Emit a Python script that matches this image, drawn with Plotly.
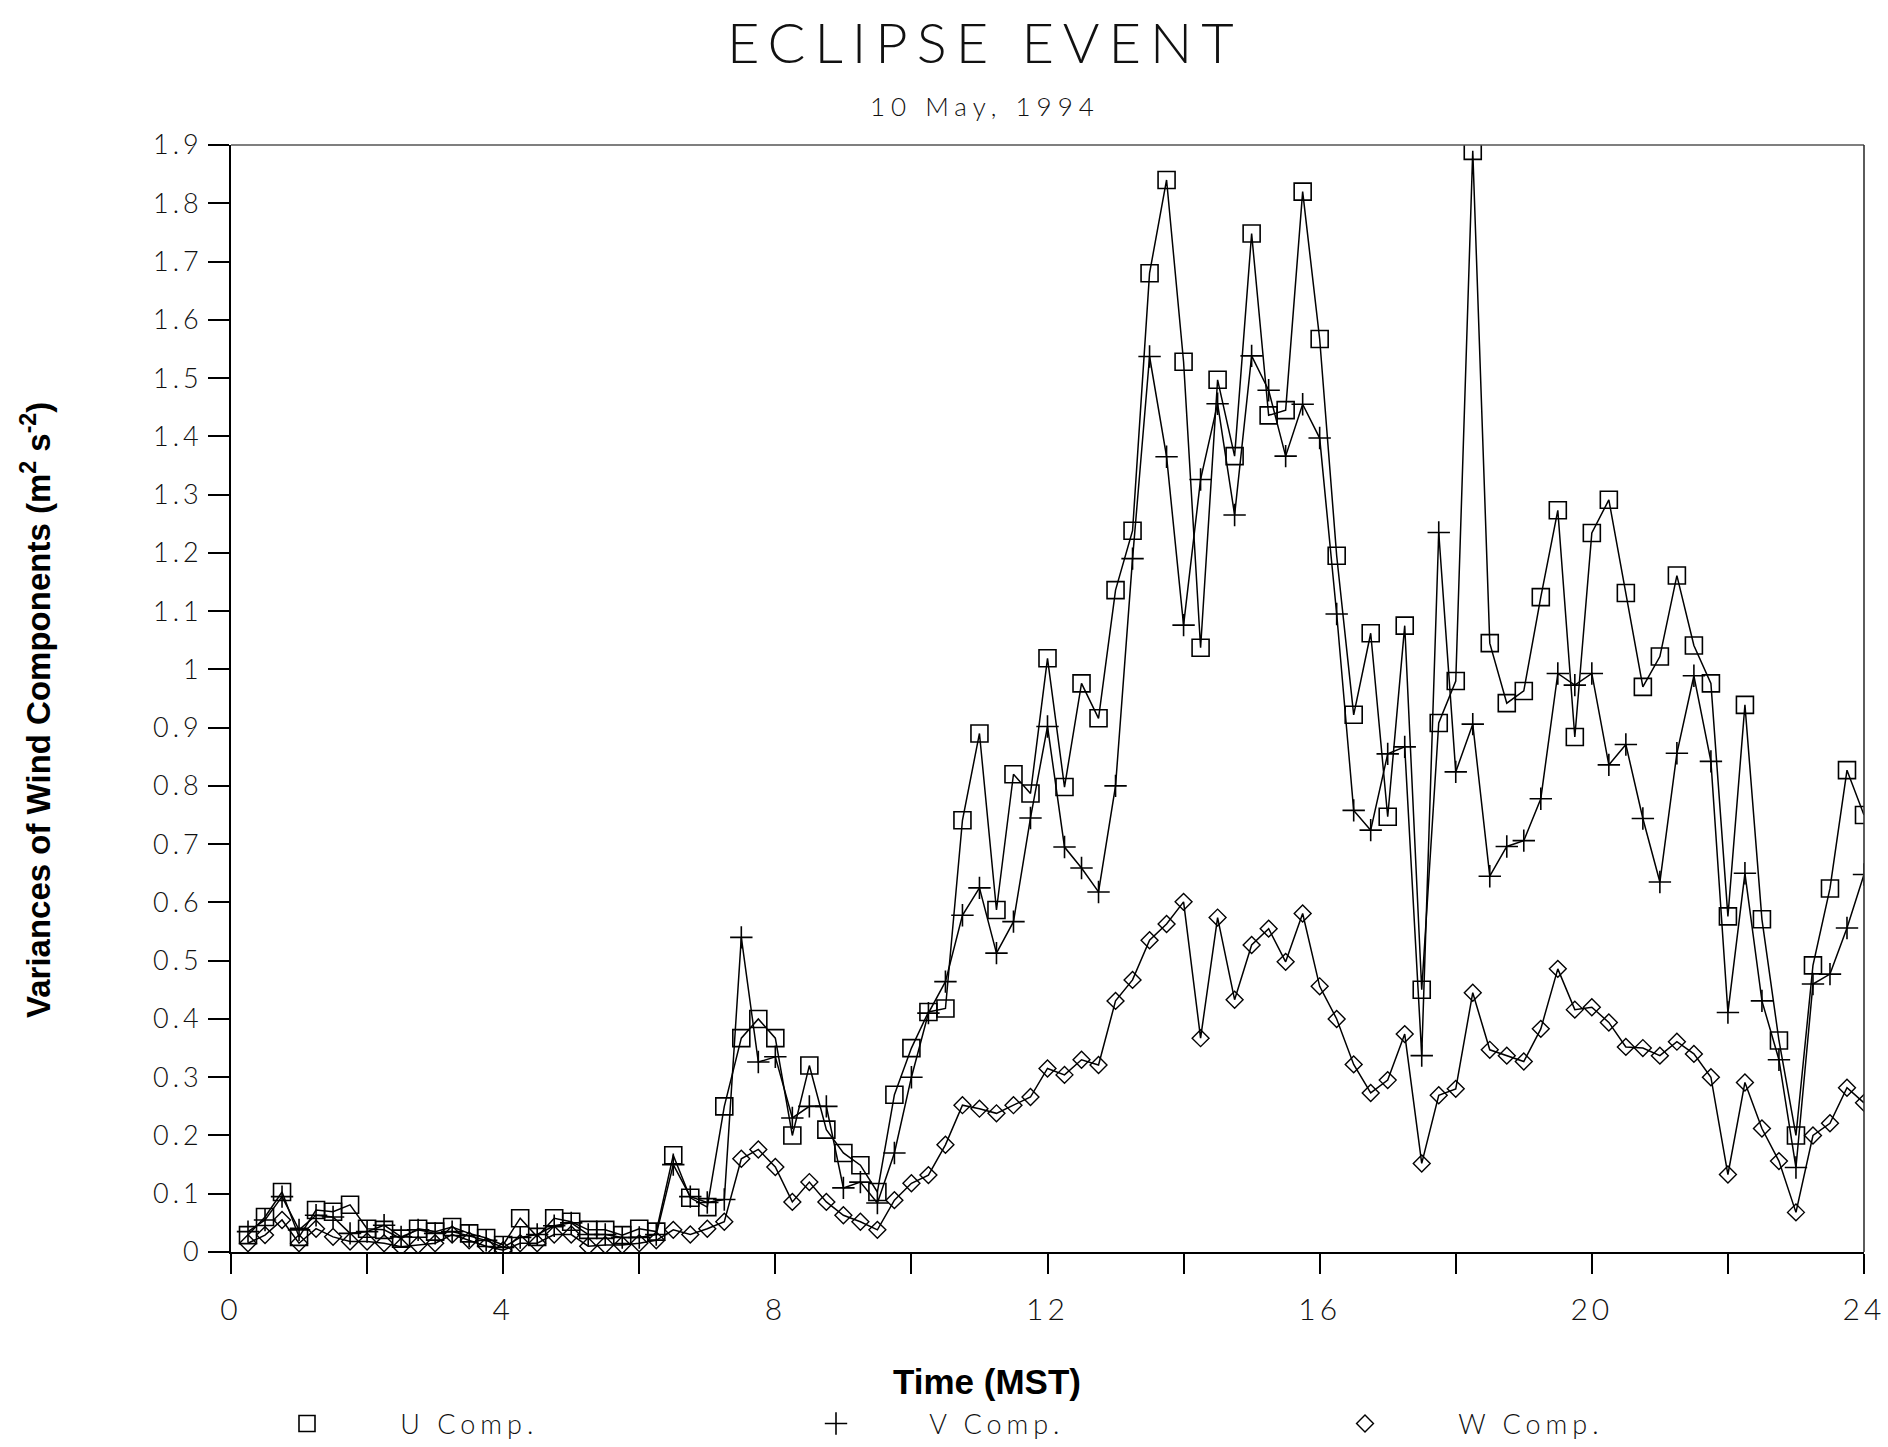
import plotly.graph_objects as go

# Time (MST) of each 15-minute sample
time_mst = [0.25, 0.5, 0.75, 1.0, 1.25, 1.5, 1.75, 2.0, 2.25, 2.5, 2.75, 3.0,
            3.25, 3.5, 3.75, 4.0, 4.25, 4.5, 4.75, 5.0, 5.25, 5.5, 5.75, 6.0,
            6.25, 6.5, 6.75, 7.0, 7.25, 7.5, 7.75, 8.0, 8.25, 8.5, 8.75, 9.0,
            9.25, 9.5, 9.75, 10.0, 10.25, 10.5, 10.75, 11.0, 11.25, 11.5, 11.75, 12.0,
            12.25, 12.5, 12.75, 13.0, 13.25, 13.5, 13.75, 14.0, 14.25, 14.5, 14.75, 15.0,
            15.25, 15.5, 15.75, 16.0, 16.25, 16.5, 16.75, 17.0, 17.25, 17.5, 17.75, 18.0,
            18.25, 18.5, 18.75, 19.0, 19.25, 19.5, 19.75, 20.0, 20.25, 20.5, 20.75, 21.0,
            21.25, 21.5, 21.75, 22.0, 22.25, 22.5, 22.75, 23.0, 23.25, 23.5, 23.75, 24.0]

u_comp = [0.029, 0.060, 0.103, 0.026, 0.072, 0.069, 0.081, 0.040, 0.038, 0.023, 0.040, 0.035,
          0.043, 0.032, 0.024, 0.012, 0.058, 0.026, 0.058, 0.052, 0.038, 0.038, 0.029, 0.040,
          0.035, 0.166, 0.093, 0.077, 0.250, 0.367, 0.400, 0.367, 0.200, 0.320, 0.210, 0.170,
          0.149, 0.103, 0.270, 0.350, 0.412, 0.418, 0.741, 0.890, 0.587, 0.820, 0.787, 1.019,
          0.798, 0.976, 0.916, 1.136, 1.238, 1.680, 1.840, 1.528, 1.037, 1.497, 1.366, 1.748,
          1.436, 1.445, 1.820, 1.567, 1.195, 0.922, 1.062, 0.747, 1.075, 0.450, 0.908, 0.980,
          1.890, 1.045, 0.942, 0.963, 1.124, 1.273, 0.884, 1.234, 1.291, 1.131, 0.970, 1.022,
          1.161, 1.041, 0.976, 0.576, 0.939, 0.571, 0.363, 0.200, 0.492, 0.624, 0.827, 0.750]

v_comp = [0.035, 0.055, 0.095, 0.038, 0.063, 0.060, 0.032, 0.035, 0.046, 0.026, 0.038, 0.032,
          0.035, 0.028, 0.020, 0.008, 0.025, 0.030, 0.045, 0.050, 0.030, 0.030, 0.025, 0.025,
          0.030, 0.150, 0.095, 0.085, 0.090, 0.540, 0.326, 0.335, 0.230, 0.250, 0.250, 0.110,
          0.120, 0.084, 0.170, 0.300, 0.410, 0.464, 0.578, 0.625, 0.513, 0.567, 0.745, 0.902,
          0.695, 0.659, 0.618, 0.800, 1.190, 1.537, 1.365, 1.076, 1.326, 1.456, 1.265, 1.538,
          1.479, 1.366, 1.455, 1.397, 1.095, 0.758, 0.724, 0.855, 0.867, 0.337, 1.235, 0.824,
          0.906, 0.645, 0.696, 0.706, 0.778, 0.993, 0.973, 0.993, 0.836, 0.871, 0.744, 0.635,
          0.856, 0.989, 0.842, 0.411, 0.650, 0.431, 0.330, 0.145, 0.460, 0.477, 0.556, 0.648]

w_comp = [0.015, 0.029, 0.055, 0.015, 0.040, 0.026, 0.018, 0.018, 0.015, 0.009, 0.012, 0.015,
          0.030, 0.020, 0.010, 0.003, 0.015, 0.015, 0.030, 0.030, 0.010, 0.012, 0.012, 0.015,
          0.020, 0.038, 0.030, 0.040, 0.052, 0.160, 0.176, 0.146, 0.086, 0.120, 0.086, 0.063,
          0.052, 0.038, 0.089, 0.118, 0.132, 0.184, 0.252, 0.246, 0.238, 0.252, 0.266, 0.315,
          0.304, 0.330, 0.321, 0.431, 0.467, 0.535, 0.563, 0.601, 0.367, 0.574, 0.433, 0.527,
          0.555, 0.498, 0.581, 0.456, 0.400, 0.322, 0.273, 0.295, 0.374, 0.152, 0.269, 0.280,
          0.445, 0.347, 0.337, 0.327, 0.383, 0.486, 0.416, 0.420, 0.394, 0.352, 0.350, 0.337,
          0.361, 0.340, 0.300, 0.133, 0.291, 0.212, 0.156, 0.068, 0.200, 0.221, 0.282, 0.256]

series_names = ["U Comp.", "V Comp.", "W Comp."]
x_tick_vals = [0, 2, 4, 6, 8, 10, 12, 14, 16, 18, 20, 22, 24]
x_tick_text = ["0", "", "4", "", "8", "", "12", "", "16", "", "20", "", "24"]
y_tick_vals = [0, 0.1, 0.2, 0.3, 0.4, 0.5, 0.6, 0.7, 0.8, 0.9, 1.0,
               1.1, 1.2, 1.3, 1.4, 1.5, 1.6, 1.7, 1.8, 1.9]
y_tick_text = ["0", "0.1", "0.2", "0.3", "0.4", "0.5", "0.6", "0.7", "0.8", "0.9", "1",
               "1.1", "1.2", "1.3", "1.4", "1.5", "1.6", "1.7", "1.8", "1.9"]

W, H = 1888, 1447
ML, MR, MT, MB = 231, 24, 145, 195

FAM = "Lato, 'Liberation Sans', sans-serif"
LIGHT = dict(family=FAM, color="#111111", weight=300)


def spaced(text, px):
    return '<span style="letter-spacing:%dpx">%s</span>' % (px, text)


fig = go.Figure()
styles = [
    (u_comp, dict(symbol="square-open", size=17, color="black", line=dict(width=1.6))),
    (v_comp, dict(symbol="cross-thin-open", size=16, color="black", line=dict(width=1.6, color="black"))),
    (w_comp, dict(symbol="diamond-open", size=13, color="black", line=dict(width=1.4))),
]
for (vals, mk), name in zip(styles, series_names):
    fig.add_trace(go.Scatter(x=time_mst, y=vals, mode="lines+markers",
                             line=dict(color="black", width=1.5), marker=mk,
                             showlegend=False, name=name))
    # legend entry: symbol only
    fig.add_trace(go.Scatter(x=[None], y=[None], mode="markers", marker=mk,
                             name="\u00a0" * 10 + spaced(name, 5), showlegend=True))

fig.update_layout(
    width=W, height=H,
    margin=dict(l=ML, r=MR, t=MT, b=MB, autoexpand=False),
    paper_bgcolor="white", plot_bgcolor="white",
    font=dict(family=FAM, color="#111111"),
    showlegend=True,
    legend=dict(orientation="h", x=(287 - ML) / (W - ML - MR), xanchor="left",
                y=-(1424 - (H - MB)) / (H - MT - MB), yanchor="middle",
                entrywidth=484, entrywidthmode="pixels",
                font=dict(size=27, **LIGHT),
                bgcolor="rgba(0,0,0,0)"),
    xaxis=dict(range=[0, 24], tickvals=x_tick_vals,
               ticktext=[spaced(t, 4) if t else t for t in x_tick_text],
               ticks="outside", ticklen=20, tickwidth=1.5, tickcolor="black",
               ticklabelstandoff=10,
               showline=True, linecolor="black", linewidth=2, mirror=False,
               showgrid=False, zeroline=False,
               tickfont=dict(size=30, **LIGHT)),
    yaxis=dict(range=[0, 1.9], tickvals=y_tick_vals,
               ticktext=[spaced(t, 4) for t in y_tick_text],
               ticks="outside", ticklen=21, tickwidth=1.5, tickcolor="black",
               ticklabelstandoff=0,
               showline=True, linecolor="black", linewidth=2, mirror=False,
               showgrid=False, zeroline=False,
               tickfont=dict(size=27, **LIGHT)),
)

# thin top and right frame of the plot box
fig.add_shape(type="line", xref="paper", yref="paper", x0=0, x1=1, y0=1, y1=1,
              line=dict(color="#555555", width=1.3))
fig.add_shape(type="line", xref="paper", yref="paper", x0=1, x1=1, y0=0, y1=1,
              line=dict(color="#333333", width=1.6))

px = lambda x: (x - ML) / (W - ML - MR)
py = lambda y: ((H - MB) - y) / (H - MT - MB)

fig.add_annotation(text=spaced("ECLIPSE EVENT", 9), x=px(985), y=py(42), xref="paper", yref="paper",
                   showarrow=False, font=dict(size=56, **LIGHT), xanchor="center", yanchor="middle")
fig.add_annotation(text=spaced("10 May, 1994", 6), x=px(985), y=py(106), xref="paper", yref="paper",
                   showarrow=False, font=dict(size=26, **LIGHT), xanchor="center", yanchor="middle")
fig.add_annotation(text="<b>Time (MST)</b>", x=px(987), y=py(1381), xref="paper", yref="paper",
                   showarrow=False, font=dict(size=35, family="Liberation Sans, Arial", color="black"),
                   xanchor="center", yanchor="middle")
fig.add_annotation(text="<b>Variances of Wind Components (m<sup>2</sup> s<sup>-2</sup>)</b>",
                   x=px(36), y=py(710), xref="paper", yref="paper", textangle=-90,
                   showarrow=False, font=dict(size=33, family="Liberation Sans, Arial", color="black"),
                   xanchor="center", yanchor="middle")

fig.write_html("out.html")
